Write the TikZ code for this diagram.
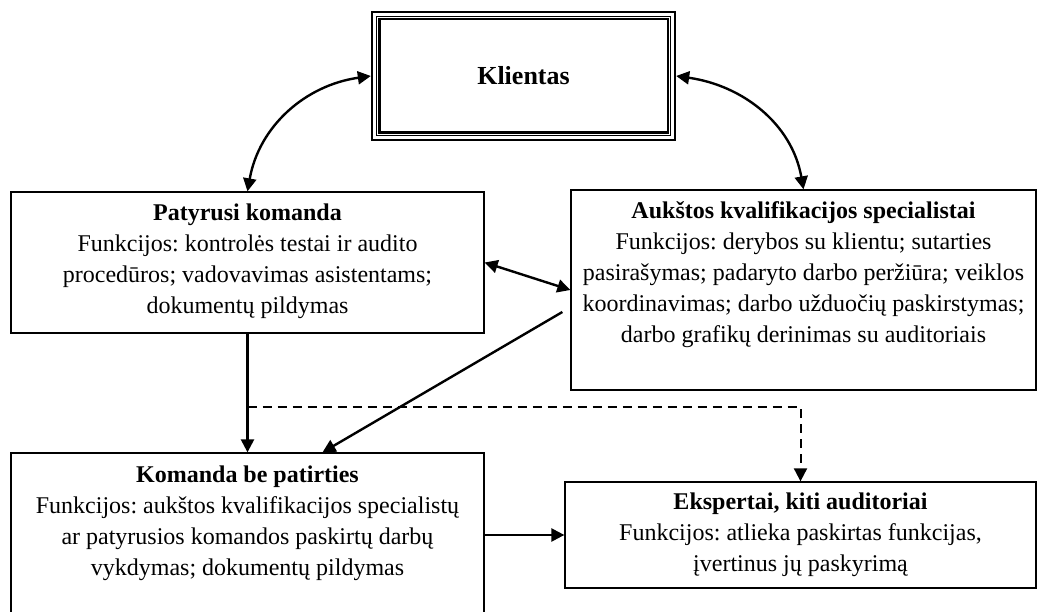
\documentclass[tikz,border=0pt]{standalone}
\usepackage{fontspec}
\setmainfont{Liberation Serif}
\usetikzlibrary{positioning,arrows.meta,calc}
\frenchspacing

\tikzset{
  blokas/.style={draw, line width=1.3pt, inner sep=0pt},
  tekstas/.style={anchor=north, align=center, inner sep=0pt, font=\fontsize{24}{31}\selectfont},
  rodykle/.style={line width=2.4pt, -{Triangle[length=13pt,width=13pt]}},
  abipus/.style={line width=2.4pt, {Triangle[length=13pt,width=13pt]}-{Triangle[length=13pt,width=13pt]}},
}

\begin{document}
\begin{tikzpicture}[x=1pt,y=1pt]
\useasboundingbox (0,0) rectangle (1040,612);

% klientas su triguba riba
\node[minimum width=305pt, minimum height=130pt, inner sep=0pt, font=\fontsize{26}{31}\selectfont\bfseries] (kl) at (523.5,536) {Klientas};
\draw[line width=2.7pt] ([shift={(1.3,1.3)}]kl.south west) rectangle ([shift={(-1.3,-1.3)}]kl.north east);
\draw[line width=1pt] ([shift={(5.5,5.5)}]kl.south west) rectangle ([shift={(-5.5,-5.5)}]kl.north east);
\draw[line width=2.4pt] ([shift={(8.5,8.5)}]kl.south west) rectangle ([shift={(-8.5,-8.5)}]kl.north east);

% blokai
\node[blokas, minimum width=473pt, minimum height=141pt] (pat) at (247.5,349.5) {};
\node[blokas, minimum width=465pt, minimum height=200pt] (auk) at (803.5,322) {};
\node[blokas, minimum width=473pt, minimum height=172pt] (kom) at (247.5,73) {}; % apacia uz lapo
\node[blokas, minimum width=471pt, minimum height=106pt] (eks) at (800.5,77) {};

% tekstai
\node[tekstas] (patT) at ([yshift=-12pt]pat.north) {\textbf{Patyrusi komanda}\\
  Funkcijos: kontrolės testai ir audito\\
  procedūros; vadovavimas asistentams;\\
  dokumentų pildymas};
\node[tekstas] (aukT) at ([yshift=-12pt]auk.north) {\textbf{Aukštos kvalifikacijos specialistai}\\
  Funkcijos: derybos su klientu; sutarties\\
  pasirašymas; padaryto darbo peržiūra; veiklos\\
  koordinavimas; darbo užduočių paskirstymas;\\
  darbo grafikų derinimas su auditoriais};
\node[tekstas] (komT) at ([yshift=-13pt]kom.north) {\textbf{Komanda be patirties}\\
  Funkcijos: aukštos kvalifikacijos specialistų\\
  ar patyrusios komandos paskirtų darbų\\
  vykdymas; dokumentų pildymas};
\node[tekstas] (eksT) at ([yshift=-11pt]eks.north) {\textbf{Ekspertai, kiti auditoriai}\\
  Funkcijos: atlieka paskirtas funkcijas,\\
  įvertinus jų paskyrimą};

% rysiai
\draw[abipus] (pat.north) to[out=80, in=188] (kl.west);
\draw[abipus] (auk.north) to[out=100, in=-8] (kl.east);
\draw[abipus] (pat.east) -- (auk.west);
\draw[rodykle] ([shift={(-8,-22)}]auk.west) -- ([xshift=75pt]kom.north);
\draw[rodykle] (pat.south) -- (kom.north);
\coordinate (skyr) at ($(pat.south)!0.62!(kom.north)$);
\draw[line width=2pt, dash pattern=on 9pt off 6pt, -{Triangle[length=13pt,width=13pt]}] (skyr) -| (eks.north);
\draw[rodykle] (kom.east |- eks.west) -- (eks.west);

\end{tikzpicture}
\end{document}
